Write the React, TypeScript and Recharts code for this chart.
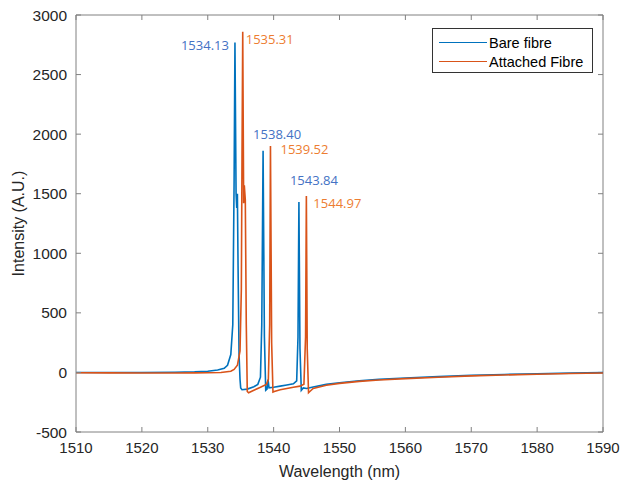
import React from 'react';
import { LineChart, Line, XAxis, YAxis, ReferenceDot, ReferenceLine, Label } from 'recharts';

// ---- Data ----
const bareWavelength = [
  1510, 1515, 1520, 1525, 1528, 1530, 1531.5, 1532.5, 1533.0, 1533.5, 1533.8, 1534.0, 1534.13,
  1534.3, 1534.4, 1534.5, 1534.6, 1534.75, 1534.9, 1535.0, 1535.2, 1536, 1537, 1537.6, 1538.0,
  1538.2, 1538.4, 1538.6, 1538.8, 1539.0, 1539.15, 1539.3, 1540, 1541, 1542, 1543.0, 1543.5,
  1543.7, 1543.84, 1544.0, 1544.2, 1544.5, 1545, 1546, 1548, 1550, 1553, 1556, 1560, 1565,
  1570, 1575, 1580, 1585, 1590,
];
const bareIntensity = [
  0, 0, 0, 2, 5, 10, 20, 35, 60, 150, 400, 1600, 2770,
  1500, 1380, 1500, 900, 150, -60, -130, -145, -140, -120, -100, -40,
  400, 1860, 300, -150, -140, -60, -130, -125, -115, -105, -95, -70,
  300, 1430, 200, -150, -130, -135, -122, -100, -87, -70, -58, -47, -35,
  -25, -17, -11, -6, -2,
];

const attachedWavelength = [
  1510, 1515, 1520, 1525, 1528, 1530, 1532, 1533.5, 1534.0, 1534.5, 1534.9, 1535.1, 1535.2, 1535.31,
  1535.45, 1535.55, 1535.7, 1535.85, 1536.0, 1536.2, 1537, 1538, 1538.9, 1539.2, 1539.4,
  1539.52, 1539.7, 1539.9, 1540.1, 1541, 1542, 1543, 1544, 1544.6, 1544.85, 1544.97,
  1545.1, 1545.3, 1545.5, 1546, 1548, 1550, 1553, 1556, 1560, 1565, 1570, 1575, 1580,
  1585, 1590,
];
const attachedIntensity = [
  -3, -4, -5, -5, -4, -3, 0, 10, 25, 60, 180, 700, 1800, 2860,
  1420, 1570, 1450, 400, -160, -170, -150, -125, -100, -60, 400,
  1900, 250, -165, -160, -145, -135, -125, -115, -100, 300, 1480,
  200, -170, -160, -135, -108, -92, -75, -63, -52, -40, -29, -21, -15,
  -9, -5,
];

const barePeaks = [1534.13, 1538.40, 1543.84];
const barePeakHeights = [2770, 1860, 1430];
const attachedPeaks = [1535.31, 1539.52, 1544.97];
const attachedPeakHeights = [2860, 1900, 1480];

const xTicks = [1510, 1520, 1530, 1540, 1550, 1560, 1570, 1580, 1590];
const yTicks = [-500, 0, 500, 1000, 1500, 2000, 2500, 3000];

const seriesNames = ['Bare fibre', 'Attached Fibre'];

// ---- Styles ----
const BLUE = '#0072BD';
const ORANGE = '#D95319';
const BLUE_LABEL = '#4472C4';
const ORANGE_LABEL = '#ED7D31';
const AXIS = '#808080';
const TEXT = '#262626';
const FONT = '"Liberation Sans", Arial, sans-serif';
const seriesColors = [BLUE, ORANGE];

const X_MIN = 1510;
const X_MAX = 1590;
const Y_MIN = -500;
const Y_MAX = 3000;
// inward tick length on the top/right frame, in data units (~5px)
const TOP_TICK_LEN = 42;
const RIGHT_TICK_LEN = 0.76;

const bareData = bareWavelength.map((w, i) => ({ x: w, y: bareIntensity[i] }));
const attachedData = attachedWavelength.map((w, i) => ({ x: w, y: attachedIntensity[i] }));

// label offsets relative to each peak (dx, dy, anchor)
const bareLabelOffsets = [
  { dx: -6, dy: 3, anchor: 'end' },
  { dx: -10, dy: -17, anchor: 'start' },
  { dx: -9, dy: -22, anchor: 'start' },
];
const attachedLabelOffsets = [
  { dx: 3, dy: 7, anchor: 'start' },
  { dx: 10, dy: 3, anchor: 'start' },
  { dx: 7, dy: 7, anchor: 'start' },
];

const makePeakLabel = (text: string, color: string, off: { dx: number; dy: number; anchor: string }) =>
  (props: any) => {
    const vb = props.viewBox || {};
    return (
      <text
        x={vb.x + off.dx}
        y={vb.y + off.dy}
        fill={color}
        fontSize={13}
        fontFamily='"Open Sans", sans-serif'
        textAnchor={off.anchor as any}
        dominantBaseline="central"
      >
        {text}
      </text>
    );
  };

export default function App() {
  return (
    <div style={{ position: 'fixed', left: 0, top: 0, width: 621, height: 484, background: '#fff' }}>
      <LineChart width={621} height={484} margin={{ top: 15, right: 18, bottom: 0, left: 0 }}>
        <XAxis
          dataKey="x"
          type="number"
          domain={[X_MIN, X_MAX]}
          ticks={xTicks}
          allowDataOverflow
          height={52}
          stroke={AXIS}
          tickSize={-5}
          tickMargin={15}
          tick={{ fill: TEXT, fontSize: 15, fontFamily: FONT }}
        >
          <Label
            content={(p: any) => {
              const vb = p.viewBox;
              return (
                <text x={vb.x + vb.width / 2} y={477} textAnchor="middle" fill={TEXT} fontSize={16} fontFamily={FONT}>
                  Wavelength (nm)
                </text>
              );
            }}
          />
        </XAxis>
        <YAxis
          type="number"
          domain={[Y_MIN, Y_MAX]}
          ticks={yTicks}
          allowDataOverflow
          width={76}
          stroke={AXIS}
          tickSize={-5}
          tickMargin={14}
          tick={{ fill: TEXT, fontSize: 15.5, fontFamily: FONT }}
        >
          <Label
            content={(p: any) => {
              const vb = p.viewBox;
              const cy = vb.y + vb.height / 2;
              return (
                <text
                  x={18}
                  y={cy}
                  transform={`rotate(-90, 18, ${cy})`}
                  textAnchor="middle"
                  dominantBaseline="central"
                  fill={TEXT}
                  fontSize={16}
                  fontFamily={FONT}
                >
                  Intensity (A.U.)
                </text>
              );
            }}
          />
        </YAxis>
        {/* box frame: top and right edges with inward ticks */}
        <ReferenceLine y={Y_MAX} stroke={AXIS} strokeWidth={1} ifOverflow="visible" />
        <ReferenceLine x={X_MAX} stroke={AXIS} strokeWidth={1} ifOverflow="visible" />
        {xTicks.map((t) => (
          <ReferenceLine
            key={'tt' + t}
            segment={[{ x: t, y: Y_MAX }, { x: t, y: Y_MAX - TOP_TICK_LEN }]}
            stroke={AXIS}
            ifOverflow="visible"
          />
        ))}
        {yTicks.map((t) => (
          <ReferenceLine
            key={'rt' + t}
            segment={[{ x: X_MAX, y: t }, { x: X_MAX - RIGHT_TICK_LEN, y: t }]}
            stroke={AXIS}
            ifOverflow="visible"
          />
        ))}
        <Line
          data={bareData}
          dataKey="y"
          name={seriesNames[0]}
          stroke={BLUE}
          strokeWidth={1.6}
          dot={false}
          type="linear"
          isAnimationActive={false}
        />
        <Line
          data={attachedData}
          dataKey="y"
          name={seriesNames[1]}
          stroke={ORANGE}
          strokeWidth={1.6}
          dot={false}
          type="linear"
          isAnimationActive={false}
        />
        {barePeaks.map((w, i) => (
          <ReferenceDot
            key={'b' + i}
            x={w}
            y={barePeakHeights[i]}
            r={0}
            fill="none"
            stroke="none"
            label={makePeakLabel(w.toFixed(2), BLUE_LABEL, bareLabelOffsets[i])}
          />
        ))}
        {attachedPeaks.map((w, i) => (
          <ReferenceDot
            key={'a' + i}
            x={w}
            y={attachedPeakHeights[i]}
            r={0}
            fill="none"
            stroke="none"
            label={makePeakLabel(w.toFixed(2), ORANGE_LABEL, attachedLabelOffsets[i])}
          />
        ))}
      </LineChart>
      <div
        style={{
          position: 'absolute',
          left: 432,
          top: 28,
          width: 161,
          height: 45,
          border: '1px solid #333',
          background: '#fff',
          boxSizing: 'border-box',
          padding: '4px 0 0 6px',
          fontFamily: FONT,
          fontSize: 14.5,
          color: '#000',
        }}
      >
        {seriesNames.map((n, i) => (
          <div key={n} style={{ display: 'flex', alignItems: 'center', height: 19 }}>
            <span
              style={{
                display: 'inline-block',
                width: 48,
                height: 0,
                borderTop: `1.3px solid ${seriesColors[i]}`,
                marginRight: 2,
              }}
            />
            <span>{n}</span>
          </div>
        ))}
      </div>
    </div>
  );
}
